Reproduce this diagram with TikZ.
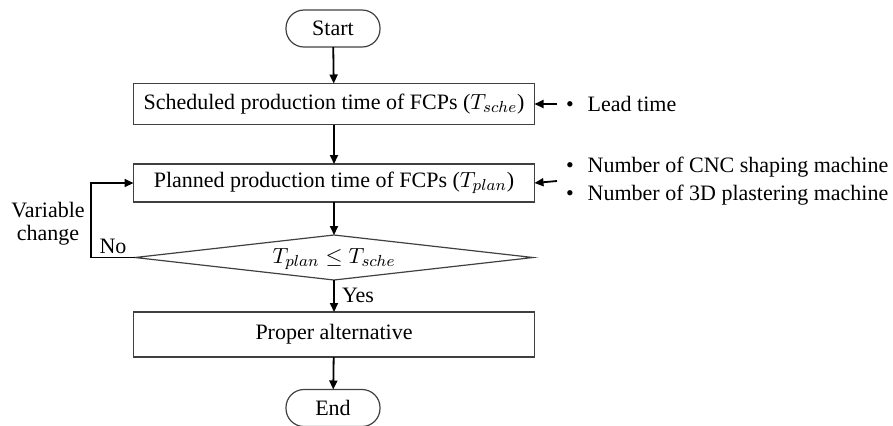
\documentclass[tikz,border=0pt]{standalone}
\usepackage{fontspec}
\setmainfont{Liberation Serif}
\usetikzlibrary{arrows.meta}
\tikzset{
  every node/.style={font=\fontsize{11}{13}\selectfont},
  box/.style={draw=black!75, line width=0.6pt, rectangle, minimum width=200.5pt, outer sep=0pt, inner sep=0pt},
  term/.style={draw=black!75, line width=0.6pt, rectangle, rounded corners=9pt, minimum width=47pt, minimum height=18.5pt, outer sep=0pt, inner sep=0pt},
  decline/.style={draw=black!75, line width=0.6pt},
  arr/.style={draw=black, line width=0.9pt, -{Triangle[length=4.5pt,width=4pt]}},
  plain/.style={inner sep=0pt, outer sep=0pt}
}
\begin{document}
\begin{tikzpicture}[x=0.5pt,y=-0.5pt]
\useasboundingbox (0,0) rectangle (893,425);
\node[term] (start) at (333,28.5) {Start};
\node[box, minimum height=20.5pt] (b1) at (334,104) {Scheduled production time of FCPs ($T_{sche}$)};
\node[box, minimum height=19pt] (b2) at (334,183) {Planned production time of FCPs ($T_{plan}$)};
\coordinate (dn) at (334,235);
\coordinate (ds) at (334,280);
\coordinate (dw) at (135,257.5);
\coordinate (de) at (533,257.5);
\draw[decline] (dn) -- (de) -- (ds) -- (dw) -- cycle;
\node[plain] (dec) at (334,259) {$T_{plan} \leq T_{sche}$};
\node[box, minimum height=22.5pt] (b3) at (334,334.5) {Proper alternative};
\node[term] (end) at (333,408) {End};
\coordinate (lp) at (91,183);
\coordinate (lb) at (91,257.5);

\draw[arr] (start) -- (b1);
\draw[arr] (b1) -- (b2);
\draw[arr] (b2) -- (dn);
\draw[arr] (ds) -- (b3);
\node[plain, anchor=base west] (yes) at (342,302) {Yes};
\draw[arr] (b3) -- (end);
\draw[arr] (dw) -- (lb) -- (lp) -- (b2.west);

\node[plain, anchor=base] (no) at (113,253) {No};
\node[plain, align=center, font=\fontsize{11}{11.5}\selectfont] (vc) at (48,224) {Variable\\change};

\node[plain, anchor=west] (lead) at (566,104) {\textbullet\hspace{7pt}Lead time};
\node[plain, anchor=west, align=left, font=\fontsize{11}{14}\selectfont] (num) at (566,181) {\textbullet\hspace{7pt}Number of CNC shaping machine\\\textbullet\hspace{7pt}Number of 3D plastering machine};
\draw[arr] ([xshift=-4.5pt]lead.west) -- (b1.east);
\draw[arr] ([xshift=-4.5pt]num.west) -- (b2.east);
\end{tikzpicture}
\end{document}
